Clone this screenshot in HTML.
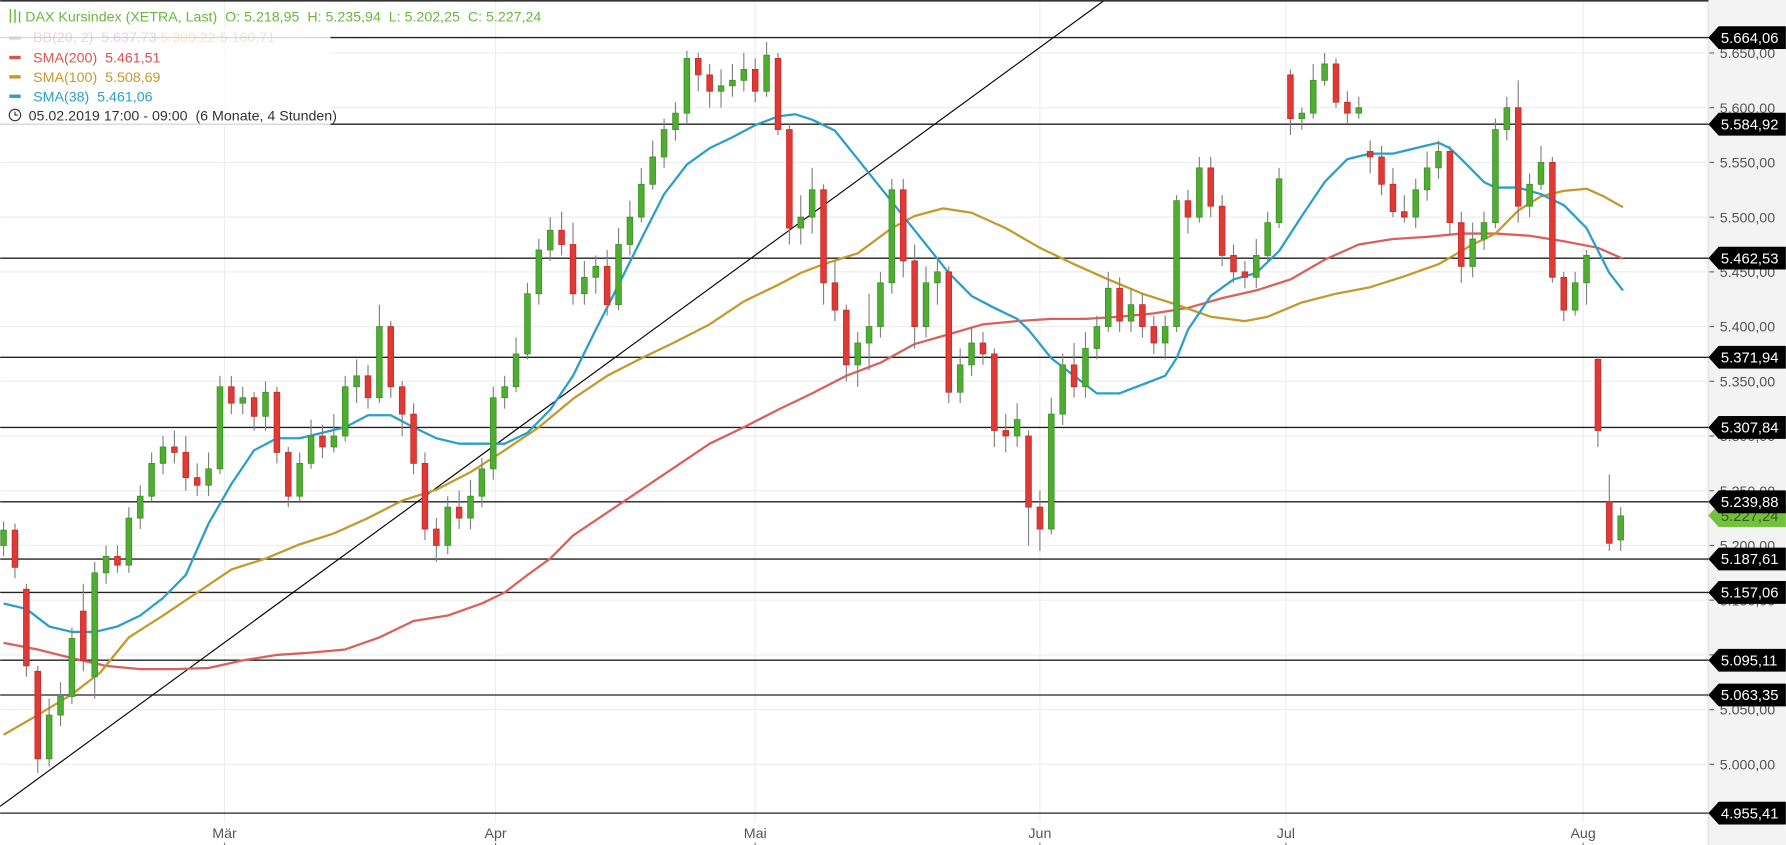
<!DOCTYPE html>
<html><head><meta charset="utf-8">
<style>
html,body{margin:0;padding:0;background:#fff;overflow:hidden}
svg{display:block;font-family:"Liberation Sans",sans-serif}
</style></head>
<body>
<svg id="chart" width="1786" height="845" viewBox="0 0 1568 742" xmlns="http://www.w3.org/2000/svg">
  <rect x="0" y="0" width="1500" height="742" fill="#ffffff"/>
  <rect x="1500" y="0" width="68" height="742" fill="#f3f3f3"/>
  <line x1="1500" y1="0" x2="1500" y2="742" stroke="#e4e4e4" stroke-width="1.5"/>
  <g id="grid"></g>
  <g id="levels"></g>
  <line x1="0" y1="708" x2="970" y2="0" stroke="#000" stroke-width="1"/>
  <g id="mas"></g>
  <g id="candles"></g>
  <line x1="0" y1="0.7" x2="1500" y2="0.7" stroke="#333" stroke-width="1.4"/>
  <g id="axis"></g>
  <g id="xaxis"></g>
  <g id="tags"></g>
  <g font-size="12.5">
    <rect x="0" y="24" width="290" height="86" fill="#fff" opacity="0.82"/>
    <text x="22" y="19" fill="#6ab73e">DAX Kursindex (XETRA, Last)&#160;&#160;O: 5.218,95&#160;&#160;H: 5.235,94&#160;&#160;L: 5.202,25&#160;&#160;C: 5.227,24</text>
    <g stroke="#6ab73e" stroke-width="1.3" fill="none">
      <line x1="9" y1="8" x2="9" y2="20"/><line x1="13" y1="8" x2="13" y2="20"/><line x1="17" y1="10" x2="17" y2="20"/>
    </g>
    <g opacity="0.55">
      <rect x="8" y="32" width="10" height="3" fill="#d9b7cf"/>
      <text x="29" y="37" fill="#d4b2ce">BB(20, 2)&#160;&#160;5.637,73 <tspan fill="#f0cfa0">5.399,22</tspan> <tspan fill="#c9d6c5">5.160,71</tspan></text>
    </g>
    <g>
      <rect x="8" y="49" width="10" height="3" fill="#d9534f"/>
      <text x="29" y="55" fill="#d9534f">SMA(200)&#160;&#160;5.461,51</text>
    </g>
    <g>
      <rect x="8" y="66" width="10" height="3" fill="#c49a2c"/>
      <text x="29" y="72" fill="#c49a2c">SMA(100)&#160;&#160;5.508,69</text>
    </g>
    <g>
      <rect x="8" y="83" width="10" height="3" fill="#2aa0c8"/>
      <text x="29" y="89" fill="#2aa0c8">SMA(38)&#160;&#160;5.461,06</text>
    </g>
    <g>
      <circle cx="13" cy="101" r="5" fill="none" stroke="#333" stroke-width="1"/>
      <path d="M13 98 V101 H15.5" fill="none" stroke="#333" stroke-width="1"/>
      <text x="25" y="106" fill="#333">05.02.2019 17:00 - 09:00&#160;&#160;(6 Monate, 4 Stunden)</text>
    </g>
  </g>
</svg>
<script>
const O=[5200,5214,5160,5085,5005,5045,5062,5140,5080,5175,5190,5182,5225,5245,5275,5290,5285,5262,5255,5270,5345,5330,5335,5318,5340,5285,5245,5275,5300,5290,5300,5345,5355,5335,5400,5345,5320,5275,5215,5200,5235,5225,5245,5270,5335,5345,5375,5430,5470,5488,5475,5430,5445,5455,5420,5475,5500,5530,5555,5580,5595,5645,5630,5615,5620,5625,5635,5615,5645,5580,5490,5500,5525,5440,5415,5365,5385,5400,5440,5525,5460,5400,5440,5450,5340,5365,5385,5375,5305,5300,5300,5235,5215,5320,5365,5345,5380,5400,5435,5405,5420,5400,5385,5400,5515,5500,5545,5510,5465,5450,5445,5465,5495,5630,5590,5595,5625,5640,5605,5595,5560,5555,5530,5505,5500,5525,5545,5560,5495,5455,5480,5495,5580,5600,5510,5530,5550,5445,5415,5440,5370,5240,5205];
const C=[5214,5180,5090,5005,5045,5062,5115,5095,5175,5190,5182,5225,5245,5275,5290,5285,5262,5255,5270,5345,5330,5335,5318,5340,5285,5245,5275,5300,5290,5300,5345,5355,5335,5400,5345,5320,5275,5215,5200,5235,5225,5245,5270,5335,5345,5375,5430,5470,5488,5475,5430,5445,5455,5420,5475,5500,5530,5555,5580,5595,5645,5630,5615,5620,5625,5635,5615,5648,5580,5490,5500,5525,5440,5415,5365,5385,5400,5440,5525,5460,5400,5440,5450,5340,5365,5385,5375,5305,5300,5315,5235,5215,5320,5365,5345,5380,5400,5435,5405,5420,5400,5385,5400,5515,5500,5545,5510,5465,5450,5445,5465,5495,5535,5590,5595,5625,5640,5605,5595,5600,5555,5530,5505,5500,5525,5545,5560,5495,5455,5480,5495,5580,5600,5510,5530,5550,5445,5415,5440,5465,5305,5202,5227];
const H=[5222,5220,5165,5090,5060,5075,5125,5165,5185,5200,5200,5235,5255,5285,5300,5305,5300,5275,5285,5355,5355,5345,5340,5350,5345,5290,5285,5315,5310,5320,5355,5370,5365,5420,5405,5350,5330,5285,5225,5245,5250,5260,5280,5345,5355,5390,5440,5480,5500,5505,5495,5460,5465,5470,5490,5515,5545,5570,5590,5605,5652,5650,5640,5635,5640,5650,5645,5660,5650,5585,5520,5545,5530,5460,5420,5395,5430,5450,5535,5535,5475,5455,5460,5455,5380,5400,5395,5380,5320,5330,5305,5250,5335,5375,5385,5395,5410,5450,5445,5435,5430,5410,5410,5520,5525,5555,5555,5520,5475,5460,5480,5505,5545,5635,5600,5640,5650,5645,5615,5610,5570,5565,5545,5520,5535,5560,5570,5565,5505,5495,5505,5590,5610,5625,5540,5565,5555,5450,5450,5470,5372,5265,5235];
const L=[5190,5170,5080,4992,4998,5035,5055,5085,5060,5165,5175,5175,5215,5240,5265,5275,5250,5245,5245,5265,5320,5320,5305,5305,5275,5235,5240,5270,5280,5285,5295,5330,5325,5330,5335,5300,5265,5205,5185,5192,5215,5215,5235,5260,5325,5340,5370,5420,5460,5465,5420,5420,5430,5410,5415,5465,5495,5525,5545,5570,5585,5615,5600,5600,5610,5615,5605,5610,5575,5475,5475,5485,5420,5405,5350,5345,5360,5390,5430,5445,5380,5390,5420,5330,5330,5355,5365,5290,5285,5290,5200,5195,5210,5310,5335,5335,5370,5395,5395,5395,5390,5375,5370,5395,5485,5495,5500,5455,5440,5435,5435,5460,5490,5575,5580,5590,5620,5600,5585,5590,5540,5520,5500,5495,5490,5515,5535,5485,5440,5445,5470,5490,5570,5495,5500,5525,5440,5405,5410,5420,5290,5195,5195];

const sma200Idx=[0,3,6,9,12,15,18,21,24,27,30,33,36,39,42,44,46,48,50,53,56,59,62,65,68,71,74,77,80,83,86,89,92,95,98,101,104,107,110,113,116,119,122,125,128,131,134,137,140,142.2];
const sma200=[5111,5105,5097,5090,5087,5087,5088,5095,5100,5102,5105,5116,5131,5136,5147,5157,5173,5188,5209,5230,5251,5272,5293,5308,5324,5339,5355,5367,5384,5393,5402,5405,5407,5407,5409,5412,5417,5426,5433,5443,5461,5475,5480,5482,5485,5485,5483,5478,5472,5462];
const sma100Idx=[0,3,6,8.5,11,14,17,20,23,26,29,32,35,38,41,44,47,50,53,56,59,62,65,68,70,72,75,78,80,82.5,85,88,91,94,97,100,103,106,109,111,114,117,120,123,126,129,131,133,135,137,139,140.5,142.2];
const sma100=[5027,5045,5064,5084,5116,5136,5157,5178,5188,5201,5211,5225,5241,5251,5267,5287,5308,5334,5355,5371,5386,5402,5423,5438,5449,5457,5467,5490,5501,5508,5504,5490,5472,5457,5443,5430,5420,5409,5405,5409,5422,5430,5436,5446,5457,5475,5485,5506,5519,5524,5526,5519,5509];
const sma38Idx=[0,2,4,6,8,10,12,14,16,18,20,22,24,26,28,30,32,34,36,38,40,42,44,46,48,50,52,54,56,58,60,62,64,66,68,69.5,71,73,75,77,79,81,83,85,87,89,90,92,94,96,98,100,102,103,104,106,108,110,112,114,116,118,120,122,124,126,127,128,130,131,133,135,137,139,141,142.2];
const sma38=[5147,5142,5126,5121,5121,5126,5136,5152,5173,5220,5256,5287,5298,5298,5303,5308,5319,5319,5308,5298,5293,5293,5293,5303,5324,5355,5397,5438,5480,5521,5548,5563,5573,5584,5592,5594,5589,5579,5553,5527,5501,5475,5449,5428,5417,5407,5397,5371,5355,5339,5339,5347,5355,5371,5397,5428,5443,5449,5469,5501,5532,5553,5558,5558,5563,5568,5563,5553,5532,5527,5527,5521,5511,5490,5449,5433];

const levels=[5664.06,5584.92,5462.53,5371.94,5307.84,5239.88,5187.61,5157.06,5095.11,5063.35,4955.41];
const levelLabels=["5.664,06","5.584,92","5.462,53","5.371,94","5.307,84","5.239,88","5.187,61","5.157,06","5.095,11","5.063,35","4.955,41"];
const ticks=[5000,5050,5100,5150,5200,5250,5300,5350,5400,5450,5500,5550,5600,5650];
const tickLabels=["5.000,00","5.050,00","5.100,00","5.150,00","5.200,00","5.250,00","5.300,00","5.350,00","5.400,00","5.450,00","5.500,00","5.550,00","5.600,00","5.650,00"];
const months=["Mär","Apr","Mai","Jun","Jul","Aug"];
const monthIdx=[19.4,43.2,66.0,91.0,112.6,138.7];
const lastPrice=5227.24, lastLabel="5.227,24";

const NS="http://www.w3.org/2000/svg";
function yS(p){return 33+(5664.06-p)*0.961;}
function xS(i){return 3+10*i;}
function mk(tag,attrs,parent){const e=document.createElementNS(NS,tag);for(const k in attrs)e.setAttribute(k,attrs[k]);parent.appendChild(e);return e;}

const grid=document.getElementById('grid');
ticks.forEach((t,k)=>{
  const l=mk('line',{x1:0,x2:1500,y1:yS(t),y2:yS(t),stroke:'#ededed','stroke-width':1},grid);
  
  
});
monthIdx.forEach((m,k)=>{
  const l=mk('line',{x1:xS(m),x2:xS(m),y1:0,y2:722,stroke:'#ededed','stroke-width':1},grid);
  
  
});

const lv=document.getElementById('levels');
levels.forEach((v,k)=>{
  const l=mk('line',{x1:0,x2:1500,y1:yS(v),y2:yS(v),stroke:'#222','stroke-width':1.2},lv);
  
  
});

const mas=document.getElementById('mas');
function ma(idx,vals,color,name){
  const pts=idx.map((i,k)=>xS(i).toFixed(1)+','+yS(vals[k]).toFixed(1)).join(' ');
  const p=mk('polyline',{points:pts,fill:'none',stroke:color,'stroke-width':2,'stroke-linejoin':'round'},mas);
  
  
}
ma(sma200Idx,sma200,'#d9605c','sma200-line');
ma(sma100Idx,sma100,'#c49a2c','sma100-line');
ma(sma38Idx,sma38,'#2aa0c8','sma38-line');

const cg=document.getElementById('candles');
for(let i=0;i<O.length;i++){
  const up=C[i]>=O[i];
  const x=xS(i);
  const w=mk('line',{x1:x,x2:x,y1:yS(H[i]),y2:yS(L[i]),stroke:'#808080','stroke-width':1},cg);
  
  
  const top=yS(Math.max(O[i],C[i])),bot=yS(Math.min(O[i],C[i]));
  const b=mk('rect',{x:x-2.5,y:top,width:5,height:Math.max(1.5,bot-top),fill:up?'#4fae31':'#e03a36',stroke:up?'#3d8f26':'#c42a27','stroke-width':0.7},cg);
  
  
}

const ax=document.getElementById('axis');
ticks.forEach((t,k)=>{
  const d=mk('line',{x1:1501,x2:1505,y1:yS(t),y2:yS(t),stroke:'#666','stroke-width':1},ax);
  
  
  const tx=mk('text',{x:1510,y:yS(t)+4.5,'font-size':12.5,fill:'#555'},ax);
  tx.textContent=tickLabels[k];
  
  
});

const xa=document.getElementById('xaxis');
months.forEach((m,k)=>{
  const t=mk('text',{x:xS(monthIdx[k]),y:736,'font-size':12.5,fill:'#555','text-anchor':'middle'},xa);
  t.textContent=m;
  
  
  const tk=mk('line',{x1:xS(monthIdx[k]),x2:xS(monthIdx[k]),y1:740,y2:742,stroke:'#777'},xa);
  
  
});

const tg=document.getElementById('tags');
function tag(v,label,fill,tcol,name){
  const y=yS(v);
  const g=mk('g',{},tg);
  
  
  mk('polygon',{points:`1500,${y} 1509,${y-10} 1568,${y-10} 1568,${y+10} 1509,${y+10}`,fill:fill},g);
  const t=mk('text',{x:1511,y:y+4.6,'font-size':13,fill:tcol},g);
  t.textContent=label;
}
tag(lastPrice,lastLabel,'#72c23b','#3a5a20','last-price-tag');
levels.forEach((v,k)=>tag(v,levelLabels[k],'#000','#fff','level-tag-'+k));
</script>
</body></html>
